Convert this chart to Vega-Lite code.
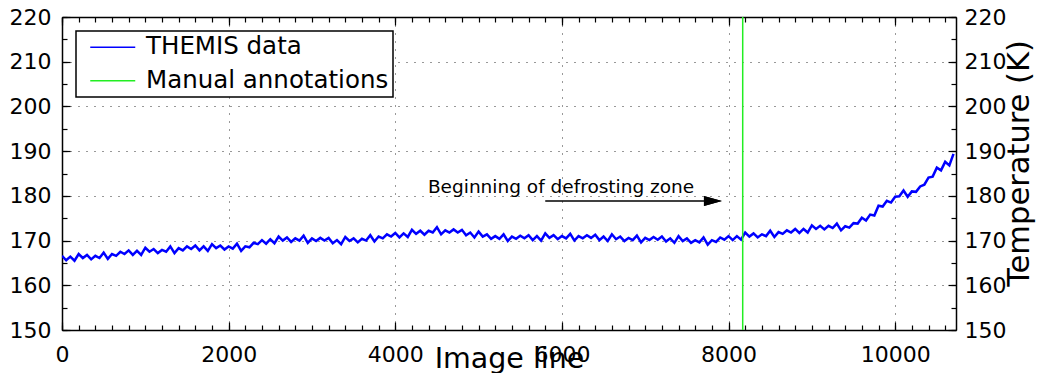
{
  "$schema": "https://vega.github.io/schema/vega-lite/v6.json",
  "autosize": "none",
  "width": 894,
  "height": 313,
  "padding": {"left": 62, "top": 17, "right": 82, "bottom": 43},
  "background": "white",
  "config": {
    "view": {"stroke": null},
    "font": "DejaVu Sans",
    "axis": {
      "labelFont": "DejaVu Sans",
      "labelFontSize": 22,
      "labelColor": "black",
      "tickColor": "black",
      "domainColor": "black",
      "domainWidth": 1.5,
      "tickWidth": 1.2,
      "titleFont": "DejaVu Sans",
      "titleFontWeight": "normal",
      "titleColor": "black",
      "labelFlush": false,
      "labelOverlap": false
    },
    "legend": {"strokeColor": "black", "strokeWidth": 1.5, "fillColor": "white"}
  },
  "datasets": {
    "themis": [
      {"line":0,"temp":166.6},{"line":50,"temp":165.6},{"line":100,"temp":166.4},{"line":150,"temp":165.5},{"line":200,"temp":167.0},{"line":250,"temp":166.1},{"line":300,"temp":166.8},{"line":350,"temp":165.8},{"line":400,"temp":166.6},{"line":450,"temp":166.1},
      {"line":500,"temp":167.3},{"line":550,"temp":165.9},{"line":600,"temp":167.0},{"line":650,"temp":166.6},{"line":700,"temp":167.5},{"line":750,"temp":167.0},{"line":800,"temp":167.8},{"line":850,"temp":166.8},{"line":900,"temp":167.7},{"line":950,"temp":166.8},
      {"line":1000,"temp":168.4},{"line":1050,"temp":167.5},{"line":1100,"temp":168.1},{"line":1150,"temp":167.2},{"line":1200,"temp":167.9},{"line":1250,"temp":167.5},{"line":1300,"temp":168.7},{"line":1350,"temp":167.2},{"line":1400,"temp":168.3},{"line":1450,"temp":167.8},
      {"line":1500,"temp":168.7},{"line":1550,"temp":168.1},{"line":1600,"temp":168.9},{"line":1650,"temp":167.8},{"line":1700,"temp":168.7},{"line":1750,"temp":167.7},{"line":1800,"temp":169.2},{"line":1850,"temp":168.3},{"line":1900,"temp":168.9},{"line":1950,"temp":168.0},
      {"line":2000,"temp":168.7},{"line":2050,"temp":168.2},{"line":2100,"temp":169.3},{"line":2150,"temp":167.7},{"line":2200,"temp":168.7},{"line":2250,"temp":168.5},{"line":2300,"temp":169.5},{"line":2350,"temp":169.2},{"line":2400,"temp":170.1},{"line":2450,"temp":169.3},
      {"line":2500,"temp":170.3},{"line":2550,"temp":169.4},{"line":2600,"temp":170.9},{"line":2650,"temp":170.0},{"line":2700,"temp":170.7},{"line":2750,"temp":169.7},{"line":2800,"temp":170.5},{"line":2850,"temp":170.0},{"line":2900,"temp":171.1},{"line":2950,"temp":169.5},
      {"line":3000,"temp":170.5},{"line":3050,"temp":169.9},{"line":3100,"temp":170.6},{"line":3150,"temp":170.0},{"line":3200,"temp":170.6},{"line":3250,"temp":169.4},{"line":3300,"temp":170.1},{"line":3350,"temp":169.2},{"line":3400,"temp":170.8},{"line":3450,"temp":169.9},
      {"line":3500,"temp":170.5},{"line":3550,"temp":169.6},{"line":3600,"temp":170.4},{"line":3650,"temp":170.0},{"line":3700,"temp":171.2},{"line":3750,"temp":169.8},{"line":3800,"temp":170.9},{"line":3850,"temp":170.5},{"line":3900,"temp":171.4},{"line":3950,"temp":170.9},
      {"line":4000,"temp":171.7},{"line":4050,"temp":170.7},{"line":4100,"temp":171.6},{"line":4150,"temp":170.8},{"line":4200,"temp":172.4},{"line":4250,"temp":171.5},{"line":4300,"temp":172.2},{"line":4350,"temp":171.3},{"line":4400,"temp":172.2},{"line":4450,"temp":171.8},
      {"line":4500,"temp":173.0},{"line":4550,"temp":171.4},{"line":4600,"temp":172.3},{"line":4650,"temp":171.8},{"line":4700,"temp":172.5},{"line":4750,"temp":171.8},{"line":4800,"temp":172.4},{"line":4850,"temp":171.2},{"line":4900,"temp":171.8},{"line":4950,"temp":170.7},
      {"line":5000,"temp":172.0},{"line":5050,"temp":170.9},{"line":5100,"temp":171.4},{"line":5150,"temp":170.4},{"line":5200,"temp":171.0},{"line":5250,"temp":170.4},{"line":5300,"temp":171.4},{"line":5350,"temp":169.9},{"line":5400,"temp":170.9},{"line":5450,"temp":170.4},
      {"line":5500,"temp":171.1},{"line":5550,"temp":170.5},{"line":5600,"temp":171.2},{"line":5650,"temp":170.1},{"line":5700,"temp":171.0},{"line":5750,"temp":170.0},{"line":5800,"temp":171.6},{"line":5850,"temp":170.6},{"line":5900,"temp":171.2},{"line":5950,"temp":170.3},
      {"line":6000,"temp":171.0},{"line":6050,"temp":170.5},{"line":6100,"temp":171.5},{"line":6150,"temp":170.0},{"line":6200,"temp":171.0},{"line":6250,"temp":170.5},{"line":6300,"temp":171.2},{"line":6350,"temp":170.6},{"line":6400,"temp":171.3},{"line":6450,"temp":170.1},
      {"line":6500,"temp":170.9},{"line":6550,"temp":169.9},{"line":6600,"temp":171.4},{"line":6650,"temp":170.3},{"line":6700,"temp":170.9},{"line":6750,"temp":169.9},{"line":6800,"temp":170.6},{"line":6850,"temp":170.1},{"line":6900,"temp":171.1},{"line":6950,"temp":169.6},
      {"line":7000,"temp":170.6},{"line":7050,"temp":170.1},{"line":7100,"temp":170.8},{"line":7150,"temp":170.2},{"line":7200,"temp":170.9},{"line":7250,"temp":169.8},{"line":7300,"temp":170.5},{"line":7350,"temp":169.5},{"line":7400,"temp":171.0},{"line":7450,"temp":169.9},
      {"line":7500,"temp":170.5},{"line":7550,"temp":169.5},{"line":7600,"temp":170.1},{"line":7650,"temp":169.6},{"line":7700,"temp":170.7},{"line":7750,"temp":169.1},{"line":7800,"temp":170.1},{"line":7850,"temp":169.7},{"line":7900,"temp":170.7},{"line":7950,"temp":170.2},
      {"line":8000,"temp":171.0},{"line":8050,"temp":170.1},{"line":8100,"temp":171.0},{"line":8150,"temp":170.2},{"line":8200,"temp":171.8},{"line":8250,"temp":170.9},{"line":8300,"temp":171.6},{"line":8350,"temp":170.7},{"line":8400,"temp":171.4},{"line":8450,"temp":171.0},
      {"line":8500,"temp":172.2},{"line":8550,"temp":170.8},{"line":8600,"temp":171.9},{"line":8650,"temp":171.5},{"line":8700,"temp":172.3},{"line":8750,"temp":171.8},{"line":8800,"temp":172.6},{"line":8850,"temp":171.7},{"line":8900,"temp":172.6},{"line":8950,"temp":171.8},
      {"line":9000,"temp":173.4},{"line":9050,"temp":172.6},{"line":9100,"temp":173.3},{"line":9150,"temp":172.5},{"line":9200,"temp":173.3},{"line":9250,"temp":172.8},{"line":9300,"temp":173.8},{"line":9350,"temp":172.3},{"line":9400,"temp":173.2},{"line":9450,"temp":172.9},
      {"line":9500,"temp":173.9},{"line":9550,"temp":173.8},{"line":9600,"temp":175.1},{"line":9650,"temp":174.5},{"line":9700,"temp":175.8},{"line":9750,"temp":175.6},{"line":9800,"temp":177.8},{"line":9850,"temp":177.6},{"line":9900,"temp":178.9},{"line":9950,"temp":178.5},
      {"line":10000,"temp":179.8},{"line":10050,"temp":179.9},{"line":10100,"temp":181.2},{"line":10150,"temp":179.8},{"line":10200,"temp":181.0},{"line":10250,"temp":180.9},{"line":10300,"temp":182.1},{"line":10350,"temp":182.5},{"line":10400,"temp":184.1},{"line":10450,"temp":184.3},
      {"line":10500,"temp":186.3},{"line":10550,"temp":185.7},{"line":10600,"temp":187.6},{"line":10650,"temp":186.8},{"line":10700,"temp":189.4}
    ],
    "manual": [{"line": 8170}],
    "label": [{"line": 5990, "temp": 180.6, "text": "Beginning of defrosting zone"}],
    "arrow": [{"start": 5800, "end": 7760, "temp": 178.85}],
    "head": [{"line": 7813, "temp": 178.85}]
  },
  "resolve": {"axis": {"x": "independent", "y": "independent"}},
  "layer": [
    {
      "data": {"name": "themis"},
      "mark": {"type": "line", "strokeWidth": 2.5, "clip": true},
      "encoding": {
        "x": {
          "field": "line", "type": "quantitative",
          "scale": {"domain": [0, 10730], "nice": false, "zero": false},
          "axis": {
            "orient": "bottom",
            "values": [0, 2000, 4000, 6000, 8000, 10000],
            "format": "d",
            "ticks": false,
            "labelPadding": 14,
            "grid": true, "gridDash": [1, 7], "gridColor": "#333", "gridWidth": 1,
            "title": "Image line", "titleFontSize": 28.5,
            "titleX": 447, "titleY": 37, "titleBaseline": "alphabetic", "titleAlign": "center", "titleAnchor": null
          }
        },
        "y": {
          "field": "temp", "type": "quantitative",
          "scale": {"domain": [150, 220], "nice": false, "zero": false},
          "axis": {
            "orient": "left",
            "values": [150, 160, 170, 180, 190, 200, 210, 220],
            "ticks": false,
            "labelPadding": 11,
            "grid": true, "gridDash": [1, 7], "gridColor": "#333", "gridWidth": 1,
            "title": null
          }
        },
        "color": {
          "datum": "THEMIS data",
          "type": "nominal",
          "scale": {"domain": ["THEMIS data", "Manual annotations"], "range": ["#0000ff", "#22ee22"]},
          "legend": {
            "title": null,
            "orient": "none",
            "legendX": 14,
            "legendY": 14,
            "padding": 4,
            "symbolType": "M-3,0H3",
            "symbolSize": 225,
            "symbolStrokeWidth": 1.5,
            "symbolOffset": 20.5,
            "labelOffset": 21,
            "labelLimit": 0,
            "labelFont": "DejaVu Sans",
            "labelFontSize": 24.5,
            "labelColor": "black",
            "rowPadding": 8.5
          }
        }
      }
    },
    {
      "data": {"name": "manual"},
      "mark": {"type": "rule", "strokeWidth": 1.5},
      "encoding": {
        "x": {
          "field": "line", "type": "quantitative",
          "scale": {"domain": [0, 10730], "nice": false, "zero": false},
          "axis": {
            "orient": "top",
            "values": [0, 2000, 4000, 6000, 8000, 10000],
            "ticks": false, "labels": false, "grid": false, "title": null
          }
        },
        "y": {
          "datum": 150, "type": "quantitative",
          "scale": {"domain": [150, 220], "nice": false, "zero": false},
          "axis": {
            "orient": "right",
            "values": [150, 160, 170, 180, 190, 200, 210, 220],
            "ticks": false, "labelPadding": 8, "grid": false,
            "title": "Temperature (K)", "titleFontSize": 30.5,
            "titleAngle": 270, "titleX": 72, "titleY": 146,
            "titleAlign": "center", "titleBaseline": "alphabetic", "titleAnchor": null
          }
        },
        "y2": {"datum": 220},
        "color": {"datum": "Manual annotations", "type": "nominal"}
      }
    },
    {
      "data": {"name": "label"},
      "mark": {"type": "text", "fontSize": 18.5, "font": "DejaVu Sans", "baseline": "alphabetic", "align": "center", "color": "black"},
      "encoding": {
        "x": {
          "field": "line", "type": "quantitative",
          "scale": {"domain": [0, 10730], "nice": false, "zero": false},
          "axis": {
            "orient": "bottom", "offset": -5, "tickSize": 5, "ticks": true, "domain": false,
            "values": [0,200,400,600,800,1000,1200,1400,1600,1800,2000,2200,2400,2600,2800,3000,3200,3400,3600,3800,4000,4200,4400,4600,4800,5000,5200,5400,5600,5800,6000,6200,6400,6600,6800,7000,7200,7400,7600,7800,8000,8200,8400,8600,8800,9000,9200,9400,9600,9800,10000,10200,10400,10600],
            "labels": false, "grid": false, "title": null
          }
        },
        "y": {
          "field": "temp", "type": "quantitative",
          "scale": {"domain": [150, 220], "nice": false, "zero": false},
          "axis": {
            "orient": "left", "offset": -5, "tickSize": 5, "ticks": true, "domain": false,
            "values": [150,155,160,165,170,175,180,185,190,195,200,205,210,215,220],
            "labels": false, "grid": false, "title": null
          }
        },
        "text": {"field": "text"}
      }
    },
    {
      "data": {"name": "arrow"},
      "mark": {"type": "rule", "strokeWidth": 1.5, "color": "black"},
      "encoding": {
        "x": {
          "field": "start", "type": "quantitative",
          "scale": {"domain": [0, 10730], "nice": false, "zero": false},
          "axis": {
            "orient": "top", "offset": -5, "tickSize": 5, "ticks": true, "domain": false,
            "values": [0,200,400,600,800,1000,1200,1400,1600,1800,2000,2200,2400,2600,2800,3000,3200,3400,3600,3800,4000,4200,4400,4600,4800,5000,5200,5400,5600,5800,6000,6200,6400,6600,6800,7000,7200,7400,7600,7800,8000,8200,8400,8600,8800,9000,9200,9400,9600,9800,10000,10200,10400,10600],
            "labels": false, "grid": false, "title": null
          }
        },
        "x2": {"field": "end"},
        "y": {
          "field": "temp", "type": "quantitative",
          "scale": {"domain": [150, 220], "nice": false, "zero": false},
          "axis": {
            "orient": "right", "offset": -5, "tickSize": 5, "ticks": true, "domain": false,
            "values": [150,155,160,165,170,175,180,185,190,195,200,205,210,215,220],
            "labels": false, "grid": false, "title": null
          }
        }
      }
    },
    {
      "data": {"name": "head"},
      "mark": {"type": "point", "shape": "M-1,-0.55L1,0L-1,0.55Z", "size": 324, "filled": true, "color": "black", "opacity": 1},
      "encoding": {
        "x": {
          "field": "line", "type": "quantitative",
          "scale": {"domain": [0, 10730], "nice": false, "zero": false},
          "axis": {"orient": "bottom", "offset": -8, "tickSize": 8, "ticks": true, "domain": false, "values": [0, 2000, 4000, 6000, 8000, 10000], "labels": false, "grid": false, "title": null}
        },
        "y": {
          "field": "temp", "type": "quantitative",
          "scale": {"domain": [150, 220], "nice": false, "zero": false},
          "axis": {"orient": "left", "offset": -8, "tickSize": 8, "ticks": true, "domain": false, "values": [150, 160, 170, 180, 190, 200, 210, 220], "labels": false, "grid": false, "title": null}
        }
      }
    },
    {
      "data": {"name": "head"},
      "mark": {"type": "point", "shape": "M-1,-0.55L1,0L-1,0.55Z", "size": 324, "filled": true, "color": "black", "opacity": 1},
      "encoding": {
        "x": {
          "field": "line", "type": "quantitative",
          "scale": {"domain": [0, 10730], "nice": false, "zero": false},
          "axis": {"orient": "top", "offset": -8, "tickSize": 8, "ticks": true, "domain": false, "values": [0, 2000, 4000, 6000, 8000, 10000], "labels": false, "grid": false, "title": null}
        },
        "y": {
          "field": "temp", "type": "quantitative",
          "scale": {"domain": [150, 220], "nice": false, "zero": false},
          "axis": {"orient": "right", "offset": -8, "tickSize": 8, "ticks": true, "domain": false, "values": [150, 160, 170, 180, 190, 200, 210, 220], "labels": false, "grid": false, "title": null}
        }
      }
    }
  ]
}
